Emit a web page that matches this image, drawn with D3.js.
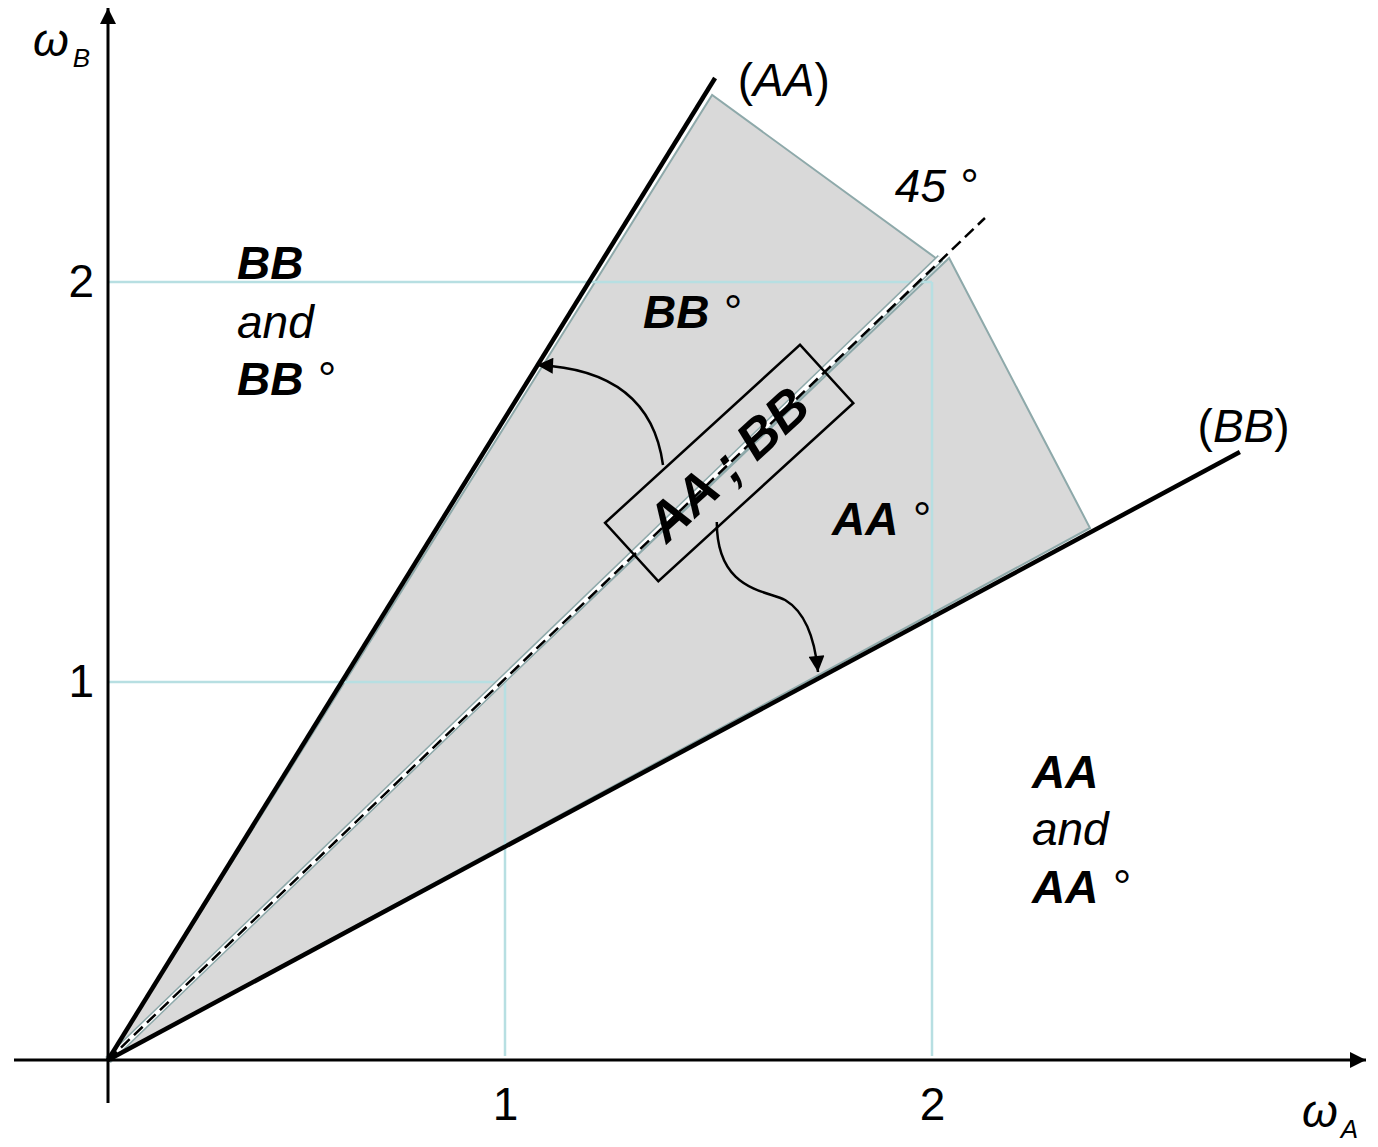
<!DOCTYPE html>
<html>
<head>
<meta charset="utf-8">
<script src="https://cdn.jsdelivr.net/npm/d3@7"></script>
<style>
  body { margin: 0; background: #fff; }
  svg text { font-family: "Liberation Sans", Arial, sans-serif; }
</style>
</head>
<body>
<div id="container"></div>
<script>
/* DATA (chart units) */
const tickValues = [1, 2]
const lineAA = [[0, 0], [1.492, 2.51]]
const lineBB = [[0, 0], [2.721, 1.575]]
const line45 = [[0, 0], [2.124, 2.16]]
const regionBB = [[0, 0], [1.485, 2.4675], [2.012, 2.0575]]
const regionAA = [[0, 0], [2.04, 2.06], [2.37, 1.385]]
const guides = [[1, 1], [2, 2]]
const arrowUp = [[1.37, 1.5425], [1.34, 1.78], [1.075, 1.7925]]
const arrowDown = [[1.496, 1.40], [1.496, 1.23], [1.608, 1.23], [1.656, 1.205], [1.703, 1.175], [1.726, 1.105], [1.733, 1.025]]
const boxCenter = [1.525, 1.5475]
const labels = [
  { x: 0.325, y: 2.0075, text: "BB", bold: true },
  { x: 0.325, y: 1.86, text: "and", bold: false },
  { x: 0.325, y: 1.7175, text: "BB", bold: true, deg: true },
  { x: 1.323, y: 1.885, text: "BB", bold: true, deg: true },
  { x: 1.766, y: 1.3675, text: "AA", bold: true, deg: true },
  { x: 2.234, y: 0.72, text: "AA", bold: true },
  { x: 2.234, y: 0.569, text: "and", bold: false },
  { x: 2.234, y: 0.415, text: "AA", bold: true, deg: true }
]
const lineNames = [
  { x: 1.545, y: 2.465, name: "AA" },
  { x: 2.622, y: 1.6, name: "BB" }
]
const angleLabel = { x: 1.913, y: 2.2, text: "45" }

/* CONSTANTS */
const width = 1378
const height = 1147
const fontSize = 46

/* SCALES */
const xScale = d3.scaleLinear()
  .domain([0, 1, 2])
  .range([108, 505, 932])

const yScale = d3.scaleLinear()
  .domain([0, 1, 2])
  .range([1060, 682, 282])

const px = d => [xScale(d[0]), yScale(d[1])]

/* SVG */
const svg = d3.select("#container")
  .append("svg")
  .attr("width", width)
  .attr("height", height)

const defs = svg.append("defs")
defs.append("marker")
  .attr("id", "head")
  .attr("viewBox", "0 0 10 10")
  .attr("refX", 10)
  .attr("refY", 5)
  .attr("markerUnits", "userSpaceOnUse")
  .attr("markerWidth", 18)
  .attr("markerHeight", 16)
  .attr("orient", "auto")
  .append("path")
  .attr("d", "M0,0L10,5L0,10Z")
  .attr("fill", "#000")

// shaded regions
svg.selectAll("polygon.region")
  .data([regionBB, regionAA])
  .join("polygon")
  .attr("class", "region")
  .attr("points", d => d.map(p => px(p).join(",")).join(" "))
  .attr("fill", "#d9d9d9")
  .attr("stroke", "#8ea9aa")
  .attr("stroke-width", 2)

// guide lines
guides.forEach(g => {
  svg.append("line")
    .attr("x1", xScale(0)).attr("x2", xScale(g[0]))
    .attr("y1", yScale(g[1])).attr("y2", yScale(g[1]))
    .attr("stroke", "#b7dfe2").attr("stroke-width", 2.5)
  svg.append("line")
    .attr("x1", xScale(g[0])).attr("x2", xScale(g[0]))
    .attr("y1", yScale(g[1])).attr("y2", yScale(0) - 4)
    .attr("stroke", "#b7dfe2").attr("stroke-width", 2.5)
})

// 45 degree line
const line = d3.line().x(d => xScale(d[0])).y(d => yScale(d[1]))
const inner45 = line45.map(d => [Math.min(d[0], 2.02), Math.min(d[1], 2.06)])
svg.append("path").attr("d", line(inner45))
  .attr("stroke", "#8ea9aa").attr("stroke-width", 8).attr("fill", "none")
svg.append("path").attr("d", line(inner45))
  .attr("stroke", "#fff").attr("stroke-width", 5).attr("fill", "none")
svg.append("path").attr("d", line(line45))
  .attr("stroke", "#000").attr("stroke-width", 2.5)
  .attr("stroke-dasharray", "12,6").attr("fill", "none")

// AA and BB lines
svg.selectAll("path.bound")
  .data([lineAA, lineBB])
  .join("path")
  .attr("class", "bound")
  .attr("d", line)
  .attr("stroke", "#000")
  .attr("stroke-width", 4.5)
  .attr("fill", "none")

// axes
const x0 = xScale(0), y0 = yScale(0)
svg.append("line")
  .attr("x1", 14).attr("x2", 1366).attr("y1", y0).attr("y2", y0)
  .attr("stroke", "#000").attr("stroke-width", 3)
  .attr("marker-end", "url(#head)")
svg.append("line")
  .attr("x1", x0).attr("x2", x0).attr("y1", 1103).attr("y2", 8)
  .attr("stroke", "#000").attr("stroke-width", 3)
  .attr("marker-end", "url(#head)")

const xAxisGroup = svg.append("g")
  .attr("transform", `translate(0, ${y0})`)
  .call(d3.axisBottom(xScale).tickValues(tickValues).tickSize(0).tickPadding(27).tickFormat(d3.format("d")))
const yAxisGroup = svg.append("g")
  .attr("transform", `translate(${x0}, 0)`)
  .call(d3.axisLeft(yScale).tickValues(tickValues).tickSize(0).tickPadding(14).tickFormat(d3.format("d")))

;[xAxisGroup, yAxisGroup].forEach(g => {
  g.select(".domain").remove()
  g.selectAll("text")
    .attr("font-size", fontSize)
    .attr("font-family", "Liberation Sans, Arial, sans-serif")
    .attr("fill", "#000")
})

// axis titles
const yTitle = svg.append("text").attr("x", 33).attr("y", 56)
  .attr("font-size", fontSize).attr("font-style", "italic")
yTitle.append("tspan").text("ω")
yTitle.append("tspan").attr("font-size", 26).attr("dx", 4).attr("dy", 11).text("B")

const xTitle = svg.append("text").attr("x", 1302).attr("y", 1127)
  .attr("font-size", fontSize).attr("font-style", "italic")
xTitle.append("tspan").text("ω")
xTitle.append("tspan").attr("font-size", 26).attr("dx", 3).attr("dy", 11).text("A")

// line names
lineNames.forEach(d => {
  const t = svg.append("text")
    .attr("x", xScale(d.x)).attr("y", yScale(d.y))
    .attr("font-size", fontSize)
  t.append("tspan").text("(")
  t.append("tspan").attr("font-style", "italic").text(d.name)
  t.append("tspan").text(")")
})

// 45 degree label
const t45 = svg.append("text")
  .attr("x", xScale(angleLabel.x)).attr("y", yScale(angleLabel.y))
  .attr("font-size", fontSize).attr("font-style", "italic")
  .style("white-space", "pre")
t45.append("tspan").text(angleLabel.text)
t45.append("tspan").text(" °")

// region labels
labels.forEach(d => {
  const t = svg.append("text")
    .attr("x", xScale(d.x)).attr("y", yScale(d.y))
    .attr("font-size", fontSize)
    .attr("font-style", "italic")
    .attr("font-weight", d.bold ? "bold" : "normal")
    .style("white-space", "pre")
  t.append("tspan").text(d.text)
  if (d.deg) t.append("tspan").attr("font-weight", "normal").text(" °")
})

// curved arrows
svg.append("path")
  .attr("d", () => {
    const p = d3.path()
    const [a, b, c] = arrowUp.map(px)
    p.moveTo(a[0], a[1])
    p.quadraticCurveTo(b[0], b[1], c[0], c[1])
    return p.toString()
  })
  .attr("stroke", "#000").attr("stroke-width", 2.5).attr("fill", "none")
  .attr("marker-end", "url(#head)")

svg.append("path")
  .attr("d", () => {
    const p = d3.path()
    const q = arrowDown.map(px)
    p.moveTo(q[0][0], q[0][1])
    p.bezierCurveTo(q[1][0], q[1][1], q[2][0], q[2][1], q[3][0], q[3][1])
    p.bezierCurveTo(q[4][0], q[4][1], q[5][0], q[5][1], q[6][0], q[6][1])
    return p.toString()
  })
  .attr("stroke", "#000").attr("stroke-width", 2.5).attr("fill", "none")
  .attr("marker-end", "url(#head)")

// rotated box with AA ; BB
const [bx, by] = px(boxCenter)
const box = svg.append("g")
  .attr("transform", `translate(${bx},${by}) rotate(-42.4)`)
box.append("rect")
  .attr("x", -132).attr("y", -39.5)
  .attr("width", 264).attr("height", 79)
  .attr("fill", "none").attr("stroke", "#000").attr("stroke-width", 2.5)
box.append("text")
  .attr("text-anchor", "middle")
  .attr("x", -2)
  .attr("y", 18)
  .attr("font-size", 53)
  .attr("font-weight", "bold")
  .attr("font-style", "italic")
  .style("white-space", "pre")
  .text("AA ; BB")
</script>
</body>
</html>
